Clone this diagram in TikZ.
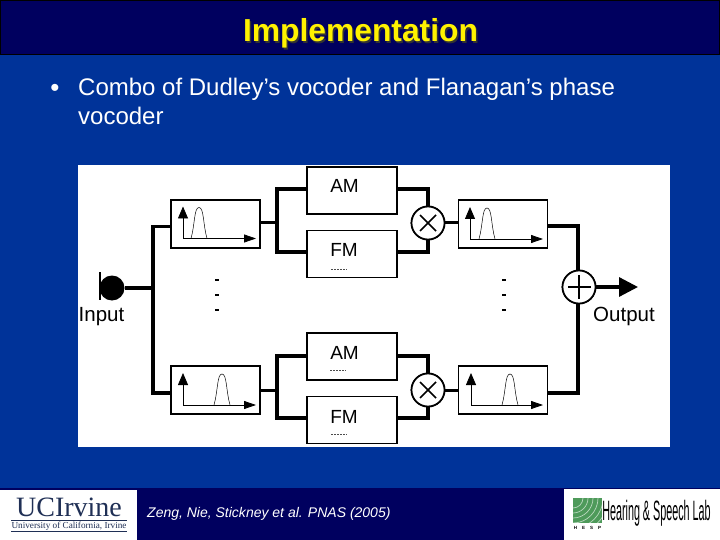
\documentclass[tikz,border=0pt]{standalone}
\usepackage{fontspec}
\setmainfont{Liberation Sans}
\newfontfamily\serifft{Liberation Serif}
\usetikzlibrary{arrows.meta}
\definecolor{slideblue}{HTML}{003399}
\definecolor{slidenavy}{HTML}{00005F}
\definecolor{ucinavy}{HTML}{1F2F55}
\definecolor{labgreen}{HTML}{4E9A5A}
\tikzset{
  x=1pt,y=-1pt,
  blockbox/.style={draw=black,fill=white,line width=1.9pt,minimum width=#1,minimum height=47pt,inner sep=0pt},
  blockbox/.default=90pt,
  blocklabel/.style={text=black,font=\fontsize{19}{19}\selectfont,inner sep=0pt},
  sumnode/.style={circle,draw=black,fill=white,line width=1.7pt,minimum size=33pt,inner sep=0pt},
  heavyline/.style={draw=black,line width=3.2pt},
  mediumline/.style={draw=black,line width=3pt},
  axisline/.style={line width=.8pt,draw=black},
  bumpline/.style={line width=.5pt,draw=black},
  tipup/.style={-{Triangle[length=12pt,width=10pt]}},
  dotmark/.style={fill=black,minimum width=3.6pt,minimum height=2.6pt,inner sep=0pt},
  smudge/.style={draw=black!70,line width=1pt,dash pattern=on 1.5pt off 1.5pt},
}
\newcommand{\filtericon}[4]{%
  \draw[axisline,tipup] (#1,#2) -- (#1,207+#2-239);
  \draw[axisline,-{Triangle[length=12pt,width=8pt]}] (#1,#2) -- (#4,#2);
  \draw[bumpline] (#3,#2) .. controls (#3+4,#2-14) and (#3+3,#2-31) .. (#3+8,#2-31)
     .. controls (#3+13,#2-31) and (#3+12,#2-14) .. (#3+16,#2);
}
\begin{document}
\begin{tikzpicture}
\useasboundingbox (0,0) rectangle (720,540);
\fill[slideblue] (0,0) rectangle (720,540);
\fill[slidenavy] (0,0) rectangle (720,55);
\draw[black,line width=.8pt] (0.4,0.4) rectangle (719.6,54.6);
\fill[slidenavy] (0,488) rectangle (720,540);
\fill[white] (0,490) rectangle (137,540);
\fill[white] (564,489) rectangle (720,540);
\fill[white] (78,165) rectangle (670,447);

% title and bullet
\node[text=black!80,font=\fontsize{31.8}{32}\selectfont\bfseries,inner sep=0pt] at (362,35) {Implementation};
\node[text=yellow,font=\fontsize{31.8}{32}\selectfont\bfseries,inner sep=0pt] (title) at (360.5,33.5) {Implementation};
\node[text=white,font=\fontsize{26}{26}\selectfont,inner sep=0pt] (bullet) at (55,90) {•};
\node[text=white,font=\fontsize{24}{29}\selectfont,inner sep=0pt,anchor=north west,align=left] (bodytext) at (78,78) {Combo of Dudley’s vocoder and Flanagan’s phase\\vocoder};

% blocks
\node[blockbox] (am1) at (352,190.5) {};
\node[blockbox] (fm1) at (352,254) {};
\node[blockbox] (am2) at (352,356.5) {};
\node[blockbox] (fm2) at (352,420) {};
\node[blockbox=89pt,minimum height=48pt] (bp1) at (215.5,224) {};
\node[blockbox=89pt,minimum height=48pt] (bp2) at (215.5,390) {};
\node[blockbox=89pt,minimum height=48pt] (bp3) at (503,224) {};
\node[blockbox=89pt,minimum height=48pt] (bp4) at (503,390) {};
\node[blocklabel] (am1t) at (344.5,186) {AM};
\node[blocklabel] (fm1t) at (344,250) {FM};
\node[blocklabel] (am2t) at (344.5,353) {AM};
\node[blocklabel] (fm2t) at (344,416.5) {FM};
\node[sumnode] (mul1) at (428,223) {};
\node[sumnode] (mul2) at (428,390) {};
\node[sumnode] (add) at (579,287) {};
\node[circle,fill=black,minimum size=25pt,inner sep=0pt] (src) at (112,288) {};
\node[text=black,font=\fontsize{20.5}{20.5}\selectfont,inner sep=0pt] (inlabel) at (101.5,316.5) {Input};
\node[text=black,font=\fontsize{20.5}{20.5}\selectfont,inner sep=0pt] (outlabel) at (624,316.5) {Output};

% junction points
\coordinate (trunkmid) at (153,288);
\coordinate (trunktop) at (153,226.5);
\coordinate (trunkbot) at (153,393);
\coordinate (j1) at (277,223);
\coordinate (j2) at (277,390);
\coordinate (outtip) at (638,287);
\coordinate (rtop) at (578,226);
\coordinate (rbot) at (578,393);
\coordinate (a1) at (277,189);
\coordinate (f1) at (277,252);
\coordinate (a2) at (277,356);
\coordinate (f2) at (277,418);

% connectors
\draw[heavyline] (src) -- (trunkmid);
\draw[heavyline] (bp1.west |- trunktop) -- (trunktop) -- (trunkbot) -- (bp2.west |- trunkbot);
\draw[mediumline] (bp1.east |- j1) -- (j1);
\draw[mediumline] (bp2.east |- j2) -- (j2);
\draw[heavyline] (am1.west |- a1) -- (a1) -- (f1) -- (fm1.west |- f1);
\draw[heavyline] (am2.west |- a2) -- (a2) -- (f2) -- (fm2.west |- f2);
\draw[heavyline] (am1.east |- a1) -- (mul1 |- a1) -- (mul1.north);
\draw[heavyline] (fm1.east |- f1) -- (mul1 |- f1) -- (mul1.south);
\draw[heavyline] (am2.east |- a2) -- (mul2 |- a2) -- (mul2.north);
\draw[heavyline] (fm2.east |- f2) -- (mul2 |- f2) -- (mul2.south);
\draw[mediumline] (mul1) -- (bp3.west |- mul1);
\draw[mediumline] (mul2) -- (bp4.west |- mul2);
\draw[heavyline] (bp3.east |- rtop) -- (rtop) -- (rtop |- add.north);
\draw[heavyline] (bp4.east |- rbot) -- (rbot) -- (rbot |- add.south);
\draw[heavyline,-{Triangle[length=19pt,width=19pt]}] (add) -- (outtip);
\draw[line width=1.4pt] (100,272) -- (100,300);

% redraw round nodes over wires
\node[sumnode] at (mul1) {};
\node[sumnode] at (mul2) {};
\node[sumnode] at (add) {};
\draw[line width=1.5pt] (420,215) -- (436,231) (420,231) -- (436,215);
\draw[line width=1.5pt] (420,382) -- (436,398) (420,398) -- (436,382);
\draw[line width=1.5pt] (568,287) -- (591,287) (579,275) -- (579,299);

% filter icons
\filtericon{183}{238.5}{191}{256}
\filtericon{183}{405}{214}{256}
\filtericon{470}{239}{479}{543}
\filtericon{471}{405}{502}{543}

% ellipsis dots
\foreach \yy/\nn in {280/a,295/b,310/c}{
  \node[dotmark] (dl\nn) at (217,\yy) {};
  \node[dotmark] (dr\nn) at (504,\yy) {};
}
% residue marks below labels
\foreach \xx/\yy in {331/269,330/370,331/434}{
  \draw[smudge] (\xx,\yy) -- (\xx+16,\yy);
}

% citation
\node[text=white,font=\fontsize{14}{14}\selectfont\itshape,inner sep=0pt,anchor=base west] (cite) at (147,517) {Zeng, Nie, Stickney et al. PNAS (2005)};

% UCI logo
\node[text=ucinavy,font=\serifft\fontsize{28}{28}\selectfont,inner sep=0pt] (ucname) at (69,507.5) {UCIrvine};
\draw[ucinavy,line width=.7pt] (11,520.5) -- (127,520.5);
\node[text=ucinavy,font=\serifft\fontsize{9.2}{9.2}\selectfont,inner sep=0pt] (ucsub) at (69,526) {University of California, Irvine};
\draw[ucinavy,line width=.6pt] (11,531) -- (127,531);

% lab logo
\fill[labgreen] (573,498) rectangle (602,523);
\begin{scope}
\clip (573,498) rectangle (602,523);
\foreach \rr in {10,15,...,35}{
  \draw[white,opacity=.6,line width=.7pt] (573,498) circle[radius=\rr];
}
\end{scope}
\node[text=black,font=\fontsize{28}{28}\selectfont,inner sep=0pt,xscale=.385] (lab) at (656.5,513) {Hearing \& Speech Lab};
\node[text=black,font=\fontsize{4.5}{4.5}\selectfont\bfseries,inner sep=0pt] (hesp) at (587.5,528) {H\hspace{5pt}E\hspace{5pt}S\hspace{5pt}P};
\end{tikzpicture}
\end{document}
